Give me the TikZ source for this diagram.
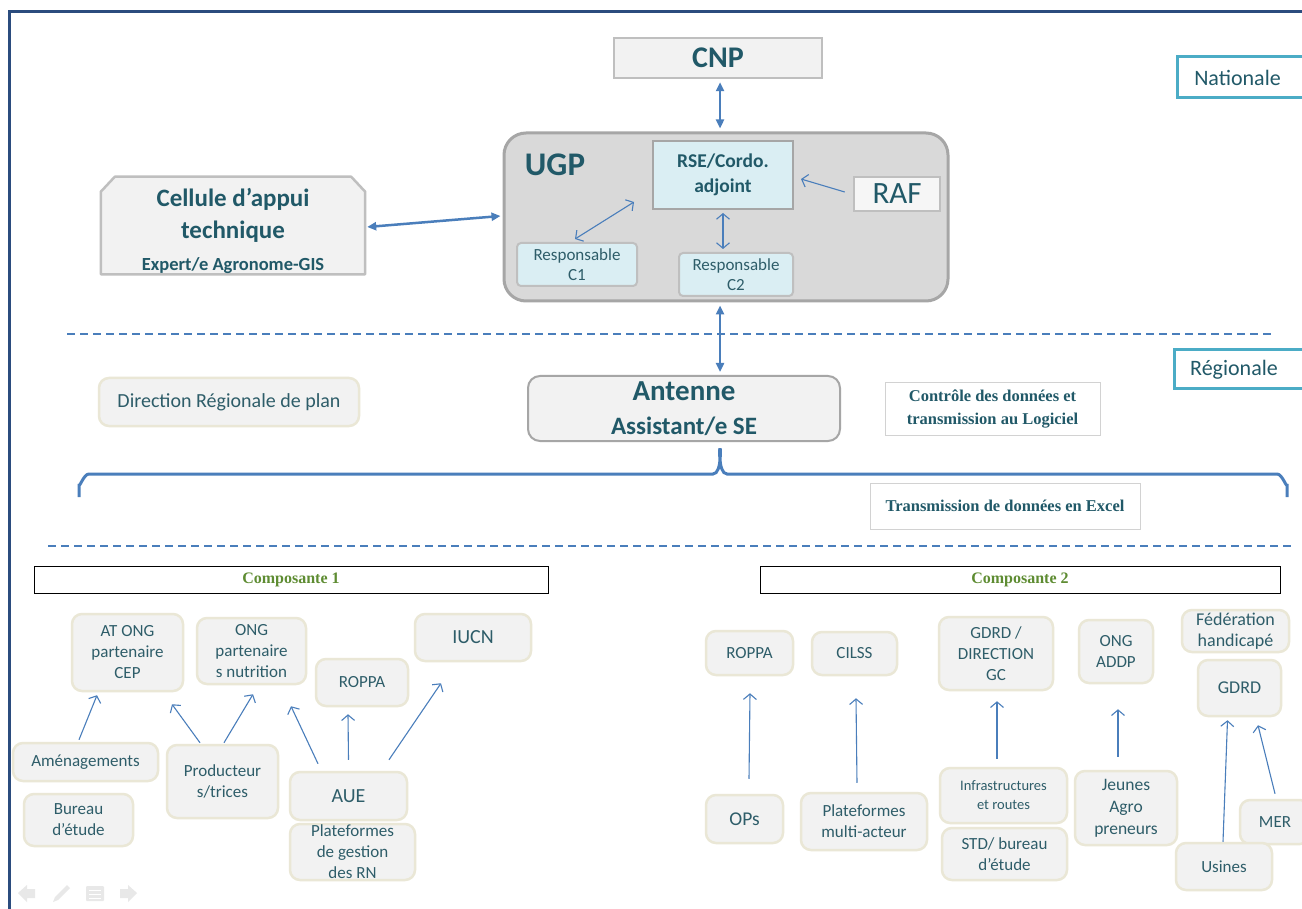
\documentclass[tikz,border=0pt]{standalone}
\usepackage{fontspec}
\setmainfont{Carlito}
\newfontfamily\tnr{Liberation Serif}
\usetikzlibrary{arrows.meta,calc,backgrounds}
\definecolor{hdteal}{HTML}{215968}
\definecolor{txteal}{HTML}{2E5D69}
\definecolor{arrblue}{HTML}{4A7EBB}
\definecolor{lvlblue}{HTML}{4BACC6}
\definecolor{framebl}{HTML}{2B4C7E}
\definecolor{boxgrey}{HTML}{F2F2F2}
\definecolor{midgrey}{HTML}{A6A6A6}
\definecolor{ltgrey}{HTML}{BFBFBF}
\definecolor{paleblue}{HTML}{DAEEF3}
\definecolor{beige}{HTML}{EAE7D6}
\definecolor{compgreen}{HTML}{5E8C32}
\definecolor{ugpfill}{HTML}{D9D9D9}
\newcommand\myfs[2]{\fontsize{#1}{#2}\selectfont}
\tikzset{
  basebox/.style={inner sep=0pt, align=center},
  greybox/.style={basebox, fill=boxgrey, draw=ltgrey, line width=2.5pt, text=hdteal},
  bluebox/.style={basebox, fill=paleblue, draw=midgrey, line width=2pt, text=txteal},
  lvlbox/.style={basebox, fill=white, draw=lvlblue, line width=3pt, text=hdteal, font=\myfs{22}{26}},
  leaf/.style={basebox, fill=boxgrey, draw=beige, line width=2.5pt, rounded corners=10pt, text=txteal, font=\myfs{17}{21}},
  notebox/.style={basebox, fill=white, draw=ltgrey!70, line width=1pt, text=hdteal, font=\tnr\bfseries\myfs{16.5}{23}},
  compbox/.style={basebox, draw=black, line width=1pt, text=compgreen, font=\tnr\bfseries\myfs{16}{18}},
  bigarr/.style={draw=arrblue, line width=2.5pt, {Triangle[length=9pt,width=8pt]}-{Triangle[length=9pt,width=8pt]}},
  thinarr/.style={draw=arrblue, line width=1.1pt, -{Straight Barb[length=5.5pt,width=13pt]}},
  thinboth/.style={draw=arrblue, line width=1.1pt, {Straight Barb[length=5.5pt,width=13pt]}-{Straight Barb[length=5.5pt,width=13pt]}},
  sepline/.style={draw=arrblue, line width=2pt, dash pattern=on 8pt off 5pt},
  navicon/.style={fill=black!9, draw=none}
}
\begin{document}
\begin{tikzpicture}[x=1pt,y=-1pt]
\useasboundingbox (0,0) rectangle (1302,909);
\clip (0,0) rectangle (1302,909);
% frame
\draw[framebl, line width=3pt] (9,920) -- (9,12) -- (1310,12);

% national level
\node[greybox, minimum width=208pt, minimum height=40pt, font=\bfseries\myfs{30}{32}] (cnp) at (718,58) {CNP};
\node[lvlbox, minimum width=129pt, minimum height=41pt] (nat) at (1241.5,77.5) {\hspace*{-8pt}Nationale};

\node[basebox, fill=ugpfill, draw=midgrey, line width=3pt, rounded corners=22pt, minimum width=444pt, minimum height=168pt] (ugp) at (726,217) {};
\node[basebox, text=hdteal, font=\bfseries\myfs{33}{36}] (ugplbl) at (555,165) {UGP};
\node[bluebox, text=hdteal, minimum width=140pt, minimum height=68pt, font=\bfseries\myfs{19.5}{25}] (rse) at (723,175) {RSE/Cordo.\\adjoint};
\node[greybox, fill=boxgrey!70!white, minimum width=86pt, minimum height=34pt, font=\myfs{31}{32}] (raf) at (897,194) {RAF};
\node[bluebox, draw=ltgrey, rounded corners=4pt, minimum width=120pt, minimum height=43pt, font=\myfs{17}{20}] (c1) at (577,264.5) {Responsable\\C1};
\node[bluebox, draw=ltgrey, rounded corners=4pt, minimum width=114pt, minimum height=43pt, font=\myfs{17}{20}] (c2) at (736,274.5) {Responsable\\C2};

\node[basebox, text=hdteal, minimum width=264pt, minimum height=97pt, font=\bfseries\myfs{25}{32}] (cell) at (233,225.5)
  {\rule{0pt}{30pt}Cellule d’appui\\technique\\{\myfs{18.5}{22}Expert/e Agronome-GIS}};
\begin{scope}[on background layer]
  \fill[white] (0,0) rectangle (1302,909);
  \draw[fill=boxgrey, draw=ltgrey, line width=2.5pt, line join=round]
    (cell.south west) -- ($(cell.north west)+(0,15)$) -- ($(cell.north west)+(14,0)$)
    -- ($(cell.north east)+(-14,0)$) -- ($(cell.north east)+(0,15)$) -- (cell.south east) -- cycle;
\end{scope}

\draw[bigarr] ($(cnp.south)+(2,3)$) -- ($(ugp.north)+(-6,-3)$);
\draw[bigarr] ($(cell.east)+(2,1.5)$) -- ($(ugp.west)+(-2,-1)$);
\draw[thinarr] ($(raf.west)+(-8,-2)$) -- ($(rse.east)+(7,4)$);
\draw[thinboth] ($(c1.north)+(-2,-3)$) -- ($(rse.south west)+(-18,-8)$);
\draw[thinboth] ($(rse.south)+(0,3)$) -- ($(c2.north)+(-13,-3)$);

\draw[sepline] (67,334) -- (1272,334);

% regional level
\node[lvlbox, minimum width=132pt, minimum height=39pt] (reg) at (1240,369.5) {\hspace*{-12pt}Régionale};
\node[greybox, draw=midgrey, line width=2pt, rounded corners=12pt, minimum width=312pt, minimum height=65pt, font=\bfseries\myfs{29}{34}] (ant) at (684,408.5)
  {Antenne\\{\myfs{25}{28}Assistant/e SE}};
\node[leaf, minimum width=260pt, minimum height=48pt, font=\myfs{20}{24}] (drp) at (229,402) {Direction Régionale de plan};
\node[notebox, minimum width=215pt, minimum height=52pt] (ctrl) at (992.5,409) {Contrôle des données et\\transmission au Logiciel};
\draw[bigarr] ($(ugp.south)+(-6,3)$) -- ($(ant.north)+(36,-3)$);

\coordinate (bracetop) at ($(ant.south)+(36,8)$);
\draw[arrblue, line width=3pt] (79,497) -- (79,484) to[out=-90,in=180] (89,474) -- (713,474) to[out=0,in=90] (bracetop) to[out=90,in=180] (727,474) -- (1277,474) to[out=0,in=-90] (1287,484) -- (1287,497);
\node[notebox, minimum width=270pt, minimum height=46pt] (trans) at (1005,506) {Transmission de données en Excel};

\draw[sepline] (48,546) -- (1295,546);

\node[compbox, minimum width=514pt, minimum height=27pt] (comp1) at (291,579.5) {Composante 1};
\node[compbox, minimum width=520pt, minimum height=27pt] (comp2) at (1020,579.5) {Composante 2};

% component 1
\node[leaf, minimum width=111pt, minimum height=77pt] (atong) at (127.5,652.5) {AT ONG\\partenaire\\CEP};
\node[leaf, minimum width=109pt, minimum height=66pt] (ongn) at (251.5,651) {ONG\\partenaire\\s nutrition};
\node[leaf, minimum width=116pt, minimum height=47pt, font=\myfs{20}{24}] (iucn) at (473,637.5) {IUCN};
\node[leaf, minimum width=92pt, minimum height=47pt] (roppa1) at (362,682.5) {ROPPA};
\node[leaf, minimum width=145pt, minimum height=38pt] (amen) at (85.5,762) {Aménagements};
\node[leaf, minimum width=109pt, minimum height=52pt] (bureau) at (78.5,820) {Bureau\\d’étude};
\node[leaf, minimum width=111pt, minimum height=73pt] (prod) at (222.5,781.5) {Producteur\\s/trices};
\node[leaf, minimum width=117pt, minimum height=48pt, font=\myfs{20}{24}] (aue) at (348.5,796) {AUE};
\node[leaf, minimum width=125pt, minimum height=56pt] (platrn) at (352.5,852) {Plateformes\\de gestion\\des RN};

\draw[thinarr] ($(amen.north)+(-6.5,-2)$) -- ($(atong.south)+(-30.5,3)$);
\draw[thinarr] ($(prod.north)+(-22.5,-1)$) -- ($(atong.south)+(44.5,12)$);
\draw[thinarr] ($(prod.north)+(1.5,-1)$) -- ($(ongn.south)+(1.5,9)$);
\draw[thinarr] ($(aue.north)+(-30.5,-7)$) -- ($(ongn.south)+(39.5,21)$);
\draw[thinarr] ($(aue.north)+(0,-11)$) -- ($(roppa1.south)+(-14,7)$);
\draw[thinarr] ($(aue.north)+(40.5,-11)$) -- ($(iucn.south)+(-32,21)$);

% component 2
\node[leaf, minimum width=87pt, minimum height=44pt] (roppa2) at (749.5,653) {ROPPA};
\node[leaf, minimum width=85pt, minimum height=43pt] (cilss) at (854.5,653.5) {CILSS};
\node[leaf, minimum width=114pt, minimum height=73pt] (gdrddir) at (996,653.5) {GDRD /\\DIRECTION\\GC};
\node[leaf, minimum width=74pt, minimum height=63pt] (ongaddp) at (1116,651.5) {ONG\\ADDP};
\node[leaf, minimum width=107pt, minimum height=42pt, font=\myfs{18}{21}] (fed) at (1235.5,631) {Fédération\\handicapé};
\node[leaf, minimum width=83pt, minimum height=56pt, font=\myfs{18}{21}] (gdrd2) at (1239.5,688) {GDRD};
\node[leaf, minimum width=77pt, minimum height=48pt, font=\myfs{19.5}{22}] (ops) at (744.5,819) {OPs};
\node[leaf, minimum width=126pt, minimum height=57pt] (platma) at (864,821.5) {Plateformes\\multi-acteur};
\node[leaf, minimum width=127pt, minimum height=55pt, font=\myfs{14.5}{19}] (infra) at (1003.5,795.5) {Infrastructures\\et routes};
\node[leaf, minimum width=125pt, minimum height=52pt] (std) at (1004.5,854) {STD/ bureau\\d’étude};
\node[leaf, minimum width=102pt, minimum height=74pt, font=\myfs{17.5}{22}] (jeunes) at (1126,808) {Jeunes\\Agro\\preneurs};
\node[leaf, minimum width=70pt, minimum height=44pt] (mer) at (1275,822) {MER};
\node[leaf, minimum width=96pt, minimum height=47pt] (usines) at (1224,866.5) {Usines};

\draw[thinarr] ($(ops.north)+(4.5,-15)$) -- ($(roppa2.south)+(0.5,17)$);
\draw[thinarr] ($(platma.north)+(-7,-9)$) -- ($(cilss.south)+(1.5,22)$);
\draw[thinarr] ($(infra.north)+(-6.5,-8)$) -- ($(gdrddir.south)+(1,10)$);
\draw[thinarr] ($(jeunes.north)+(-8,-13)$) -- ($(ongaddp.south)+(2,25)$);
\draw[thinarr] ($(usines.north)+(-1,0)$) -- ($(gdrd2.south)+(-12,3)$);
\draw[thinarr] ($(mer.north)+(0,-5)$) -- ($(gdrd2.south)+(18.5,8)$);

% slide navigation icons
\fill[navicon] (18,893) -- (27,885) -- (27,889) -- (35,889) -- (35,898) -- (27,898) -- (27,902) -- cycle;
\fill[navicon] (53,902) -- (55,897) -- (67,885) -- (70,888) -- (58,900) -- cycle;
\fill[navicon, rounded corners=1pt] (86,886) rectangle (104,901);
\draw[white, line width=0.8pt] (89,890) -- (101,890) (89,894) -- (101,894) (89,898) -- (101,898);
\fill[navicon] (137,893) -- (128,885) -- (128,889) -- (120,889) -- (120,898) -- (128,898) -- (128,902) -- cycle;
\end{tikzpicture}
\end{document}
